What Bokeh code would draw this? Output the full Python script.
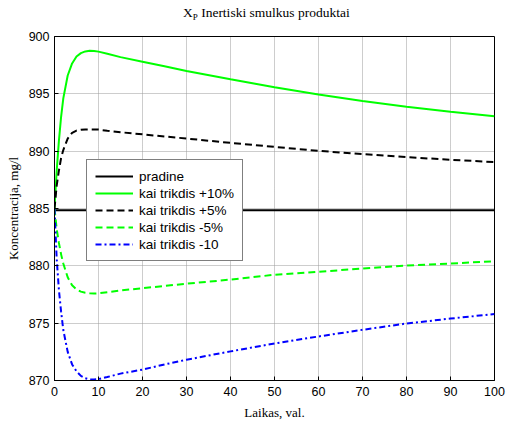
from bokeh.plotting import figure
from bokeh.models import Range1d, FixedTicker, Legend, LegendItem, Div
from bokeh.layouts import column
from bokeh.embed import file_html
from bokeh.resources import INLINE

# Time axis (hours)
laikas = [0, 0.5, 1, 1.5, 2, 3, 4, 5, 6, 7, 8, 9, 10, 12, 15, 20, 25, 30,
          40, 50, 60, 70, 80, 90, 100]

# Product concentration, mg/l, for each disturbance case
pradine = [884.85] * len(laikas)
plus10 = [885.0, 888.3, 890.9, 893.0, 894.6, 896.6, 897.65, 898.25, 898.55,
          898.7, 898.76, 898.74, 898.68, 898.5, 898.2, 897.8, 897.4, 897.0,
          896.27, 895.58, 894.94, 894.37, 893.87, 893.44, 893.04]
plus5 = [885.0, 887.0, 888.3, 889.4, 890.1, 891.1, 891.6, 891.8, 891.87,
         891.9, 891.9, 891.9, 891.88, 891.78, 891.65, 891.47, 891.28, 891.1,
         890.72, 890.37, 890.03, 889.74, 889.48, 889.25, 889.05]
minus5 = [885.0, 883.2, 882.0, 881.0, 880.2, 879.0, 878.3, 877.95, 877.75,
          877.65, 877.6, 877.58, 877.6, 877.7, 877.85, 878.05, 878.25, 878.44,
          878.8, 879.22, 879.48, 879.77, 880.03, 880.2, 880.4]
minus10 = [885.0, 880.6, 877.9, 876.0, 874.4, 872.5, 871.4, 870.8, 870.4,
           870.2, 870.1, 870.08, 870.12, 870.3, 870.6, 870.95, 871.4, 871.81,
           872.54, 873.23, 873.84, 874.42, 874.97, 875.4, 875.8]

x_ticks = [0, 10, 20, 30, 40, 50, 60, 70, 80, 90, 100]
y_ticks = [870, 875, 880, 885, 890, 895, 900]

legend_labels = ["pradine", "kai trikdis +10%", "kai trikdis +5%",
                 "kai trikdis -5%", "kai trikdis -10"]

# Title with subscript (HTML), sitting above the plot
title_html = ("<span style=\"font-family:'Liberation Serif',serif;"
              "font-size:13.5px;color:black;line-height:16px\">"
              "X<sub style='font-size:9px;vertical-align:-3px'>P</sub> "
              "Inertiski smulkus produktai</span>")
title = Div(text=title_html, width=506, height=26, margin=(0, 0, 0, 0),
            styles={"padding-top": "5px", "padding-left": "183px",
                    "white-space": "nowrap", "line-height": "16px"})

p = figure(width=506, height=396, output_backend="svg", toolbar_location=None,
           x_range=Range1d(0, 100), y_range=Range1d(870, 900),
           min_border_left=54, min_border_right=12,
           min_border_top=10, min_border_bottom=40, margin=(0, 0, 0, 0))
p.background_fill_color = "white"
p.border_fill_color = "white"
p.outline_line_color = "black"
p.outline_line_width = 1

for ax in (p.xaxis[0], p.yaxis[0]):
    ax.major_label_text_font = "Liberation Sans"
    ax.major_label_text_font_size = "12.5px"
    ax.major_label_text_color = "black"
    ax.axis_label_text_font = "Liberation Serif"
    ax.axis_label_text_font_size = "13px"
    ax.axis_label_text_font_style = "normal"
    ax.axis_label_text_color = "black"
    ax.major_tick_in = 4
    ax.major_tick_out = 0
    ax.minor_tick_line_color = None
    ax.axis_line_color = "black"

p.xaxis.ticker = FixedTicker(ticks=x_ticks)
p.yaxis.ticker = FixedTicker(ticks=y_ticks)
p.xaxis.axis_label = "Laikas, val."
p.yaxis.axis_label = "Koncentracija, mg/l"
p.xaxis.major_label_standoff = 6
p.xaxis.axis_label_standoff = 6
p.yaxis.major_label_standoff = 5
p.yaxis.axis_label_standoff = 5

p.grid.grid_line_color = "#9a9a9a"
p.grid.grid_line_dash = "1 1"
p.grid.grid_line_width = 1

r0 = p.line(laikas, pradine, line_color="black", line_width=2)
r1 = p.line(laikas, plus10, line_color="#00ff00", line_width=2)
r2 = p.line(laikas, plus5, line_color="black", line_width=2, line_dash="7 4")
r3 = p.line(laikas, minus5, line_color="#00ff00", line_width=2, line_dash="7 4")
r4 = p.line(laikas, minus10, line_color="#0000ff", line_width=2,
            line_dash="6 3 2 3")

legend = Legend(items=[LegendItem(label=l, renderers=[r])
                       for l, r in zip(legend_labels, [r0, r1, r2, r3, r4])],
                location=(32, 119), orientation="vertical")
legend.label_text_font = "Liberation Sans"
legend.label_text_font_size = "13.5px"
legend.label_text_color = "black"
legend.glyph_width = 38
legend.glyph_height = 16
legend.label_height = 16
legend.label_standoff = 6
legend.spacing = 1
legend.padding = 8
legend.margin = 0
legend.border_line_color = "black"
legend.border_line_width = 1
legend.background_fill_color = "white"
legend.background_fill_alpha = 1
p.add_layout(legend, "center")

layout = column(title, p, spacing=0, margin=(0, 0, 0, 0))
open("out.html", "w").write(file_html(layout, INLINE))
